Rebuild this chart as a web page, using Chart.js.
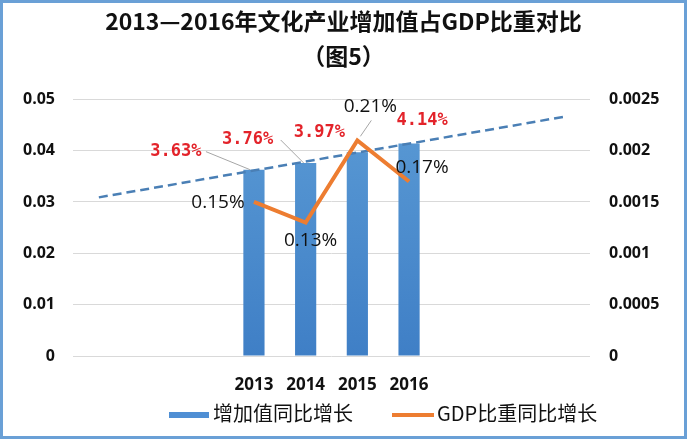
<!DOCTYPE html>
<html>
<head>
<meta charset="utf-8">
<script src="https://cdn.jsdelivr.net/npm/chart.js@4"></script>
<style>
  html, body { margin: 0; padding: 0; background: #fff; }
  #wrap { width: 687px; height: 439px; }
</style>
</head>
<body>
<div id="wrap"><canvas id="c" width="687" height="439"></canvas></div>
<script>
// ---- データ ----
const years      = ['', '', '', '2013', '2014', '2015', '2016', '', '', ''];
const addValue   = [null, null, null, 0.0363, 0.0376, 0.0397, 0.0414, null, null, null]; // 増加値同比増長
const gdpShare   = [null, null, null, 0.0015, 0.0013, 0.0021, 0.0017, null, null, null]; // GDP比重同比増長
const trend      = [0.0309, null, null, null, null, null, null, null, null, 0.0466];   // 線形近似（読み取り）
const addLabels  = ['3.63%', '3.76%', '3.97%', '4.14%'];
const gdpLabels  = ['0.15%', '0.13%', '0.21%', '0.17%'];
const leftTicks  = [0, 0.01, 0.02, 0.03, 0.04, 0.05];
const rightTicks = [0, 0.0005, 0.001, 0.0015, 0.002, 0.0025];

const BLUE = '#4f8fd4';
const ORANGE = '#ed7d31';

// ラベル位置（要素からのオフセット）
const redOff   = [[-78, -18], [-58, -23], [-38, -20], [13, -23]];
const blackOff = [[-36, 1], [5, 18], [13, -34], [13, -14]];

const labelsPlugin = {
  id: 'labels',
  afterDatasetsDraw(chart) {
    const ctx = chart.ctx;
    const bars = chart.getDatasetMeta(0).data;
    const pts = chart.getDatasetMeta(1).data;
    ctx.save();
    // 引出線
    ctx.strokeStyle = '#a6a6a6';
    ctx.lineWidth = 1;
    const b0 = bars[3], b1 = bars[4], p2 = pts[5];
    [[b0.x + redOff[0][0] + 30, b0.y + redOff[0][1], b0.x - 4, b0.y],
     [b1.x + redOff[1][0] + 33, b1.y + redOff[1][1], b1.x - 2, b1.y],
     [p2.x + blackOff[2][0] + 1, p2.y + blackOff[2][1] + 14, p2.x + 3, p2.y - 4]
    ].forEach(l => { ctx.beginPath(); ctx.moveTo(l[0], l[1]); ctx.lineTo(l[2], l[3]); ctx.stroke(); });

    ctx.textAlign = 'center';
    ctx.textBaseline = 'middle';
    ctx.fillStyle = '#e3232a';
    ctx.font = 'bold 17px "DejaVu Sans Mono"';
    addLabels.forEach((t, i) => {
      const el = bars[i + 3];
      ctx.fillText(t, el.x + redOff[i][0], el.y + redOff[i][1]);
    });
    ctx.fillStyle = '#111';
    ctx.font = '19px "Open Sans"';
    gdpLabels.forEach((t, i) => {
      const el = pts[i + 3];
      ctx.fillText(t, el.x + blackOff[i][0], el.y + blackOff[i][1]);
    });
    ctx.restore();
  },
  afterDraw(chart) {
    const ctx = chart.ctx;
    ctx.save();
    // 凡例
    ctx.fillStyle = BLUE;
    ctx.fillRect(169, 412, 40, 6);
    ctx.strokeStyle = ORANGE;
    ctx.lineWidth = 4;
    ctx.beginPath(); ctx.moveTo(392, 415); ctx.lineTo(434, 415); ctx.stroke();
    ctx.fillStyle = '#111';
    ctx.font = '20px "Noto Sans CJK SC"';
    ctx.textBaseline = 'middle';
    ctx.fillText('增加值同比增长', 213, 413);
    ctx.fillText('GDP比重同比增长', 437, 413);
    // 外枠
    ctx.strokeStyle = '#6aa0d6';
    ctx.lineWidth = 3;
    ctx.strokeRect(1.5, 1.5, 684, 436);
    ctx.restore();
  }
};

new Chart(document.getElementById('c'), {
  type: 'bar',
  data: {
    labels: years,
    datasets: [{
      label: '增加值同比增长',
      data: addValue,
      yAxisID: 'y',
      backgroundColor: ctx => {
        const a = ctx.chart.chartArea;
        if (!a) return BLUE;
        const g = ctx.chart.ctx.createLinearGradient(0, a.top, 0, a.bottom);
        g.addColorStop(0, '#5b9bd5');
        g.addColorStop(1, '#3f7fc6');
        return g;
      },
      barPercentage: 0.41,
      categoryPercentage: 1,
      order: 3
    }, {
      type: 'line',
      label: 'GDP比重同比增长',
      data: gdpShare,
      yAxisID: 'y2',
      borderColor: ORANGE,
      borderWidth: 4,
      pointRadius: 0,
      tension: 0,
      order: 1
    }, {
      type: 'line',
      label: 'trend',
      data: trend,
      yAxisID: 'y',
      spanGaps: true,
      borderColor: '#4a7fb5',
      borderWidth: 2.5,
      borderDash: [9, 5],
      pointRadius: 0,
      order: 2
    }]
  },
  options: {
    responsive: false,
    animation: false,
    layout: { padding: { top: 0, left: 0, right: 0, bottom: 43 } },
    plugins: {
      legend: { display: false },
      tooltip: { enabled: false },
      title: {
        display: true,
        text: ['2013—2016年文化产业增加值占GDP比重对比', '（图5）'],
        color: '#111',
        font: { size: 23, weight: 'bold', family: '"Noto Sans CJK SC"', lineHeight: 1.55 },
        padding: { top: 3, bottom: 25 }
      }
    },
    scales: {
      x: {
        grid: { display: false },
        border: { display: false },
        ticks: { color: '#111', font: { size: 17, weight: 'bold', family: '"Open Sans"' }, padding: 11, autoSkip: false, maxRotation: 0 },
        afterFit: s => { s.height = 40; }
      },
      y: {
        position: 'left',
        min: 0, max: 0.05,
        afterBuildTicks: s => { s.ticks = leftTicks.map(v => ({ value: v })); },
        grid: { color: '#d9d9d9', lineWidth: 1, drawTicks: false },
        border: { display: false },
        ticks: { color: '#111', font: { size: 16, weight: 'bold', family: '"Open Sans"' }, padding: 18, callback: v => String(v) },
        afterFit: s => { s.width = 73; }
      },
      y2: {
        position: 'right',
        min: 0, max: 0.0025,
        afterBuildTicks: s => { s.ticks = rightTicks.map(v => ({ value: v })); },
        grid: { display: false, drawTicks: false },
        border: { display: false },
        ticks: { color: '#111', font: { size: 16, weight: 'bold', family: '"Open Sans"' }, padding: 19, callback: v => String(v) },
        afterFit: s => { s.width = 97; }
      }
    }
  },
  plugins: [labelsPlugin]
});
</script>
</body>
</html>
